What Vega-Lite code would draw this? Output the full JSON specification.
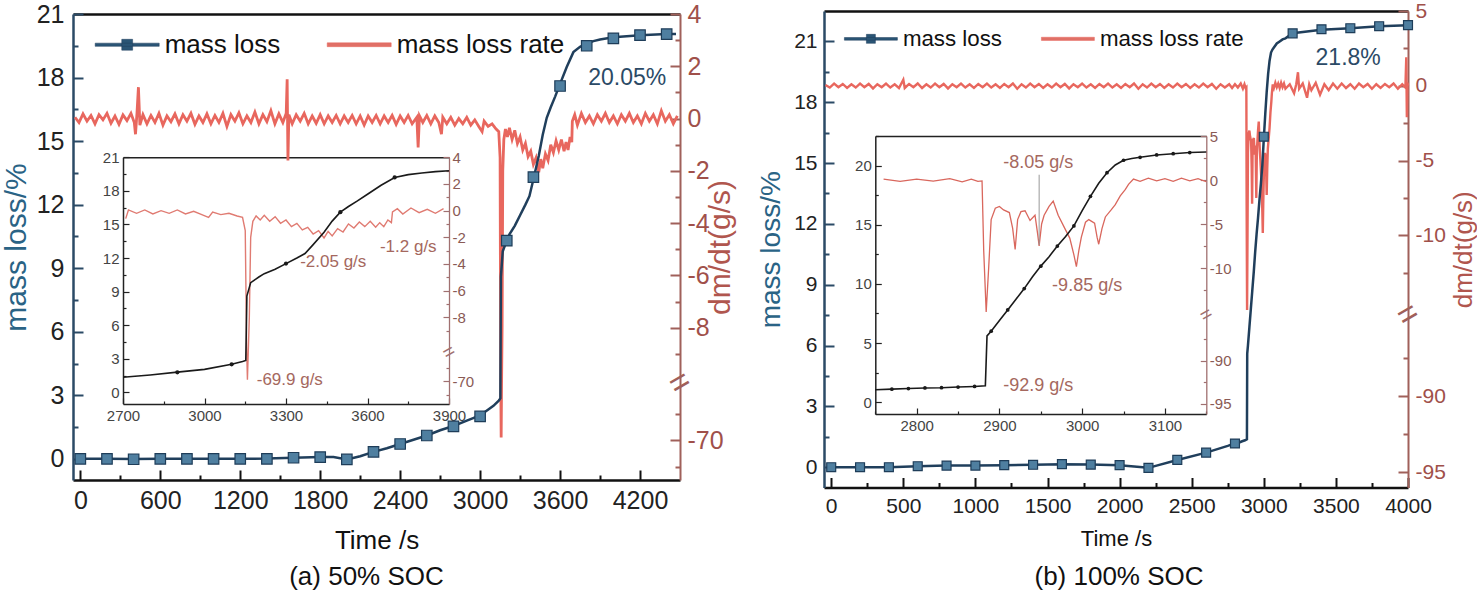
{
"$schema": "https://vega.github.io/schema/vega-lite/v6.json",
"padding": {"left": 1, "top": 0, "right": 0, "bottom": 0},
"spacing": 21,
"config": {
  "font": "Liberation Sans",
  "view": {"stroke": null},
  "axis": {"grid": false, "labelFont": "Liberation Sans", "titleFont": "Liberation Sans", "titleFontWeight": "normal", "labelOverlap": false, "labelFlush": false},
  "legend": {"labelFont": "Liberation Sans"},
  "title": {"font": "Liberation Sans", "fontWeight": "normal"}
},
"resolve": {"scale": {"color": "independent"}, "legend": {"color": "independent"}},
"datasets": {
  "rateA": [
    {"t":-40,"v":0.05},{"t":-10,"v":-0.15},{"t":20,"v":0.18},{"t":50,"v":-0.1},{"t":80,"v":0.12},{"t":110,"v":-0.2},{"t":140,"v":0.15},{"t":170,"v":-0.05},{"t":200,"v":0.2},{"t":230,"v":-0.18},{"t":260,"v":0.1},{"t":290,"v":-0.22},{"t":320,"v":0.14},{"t":350,"v":-0.08},{"t":380,"v":0.2},{"t":405,"v":-0.15},{"t":414,"v":-0.6},{"t":425,"v":0.2},{"t":436,"v":1.2},{"t":447,"v":-0.25},{"t":470,"v":0.15},{"t":500,"v":-0.2},{"t":530,"v":0.12},{"t":560,"v":-0.15},{"t":590,"v":0.2},{"t":620,"v":-0.25},{"t":650,"v":0.1},{"t":680,"v":-0.12},{"t":710,"v":0.18},{"t":740,"v":-0.2},{"t":770,"v":0.15},{"t":800,"v":-0.1},{"t":830,"v":0.2},{"t":860,"v":-0.22},{"t":890,"v":0.1},{"t":920,"v":-0.15},{"t":950,"v":0.18},{"t":980,"v":-0.2},{"t":1010,"v":0.12},{"t":1040,"v":-0.15},{"t":1070,"v":0.2},{"t":1100,"v":-0.3},{"t":1130,"v":0.15},{"t":1160,"v":-0.1},{"t":1190,"v":0.22},{"t":1220,"v":-0.2},{"t":1250,"v":0.1},{"t":1280,"v":-0.15},{"t":1310,"v":0.25},{"t":1340,"v":-0.2},{"t":1370,"v":0.15},{"t":1400,"v":-0.12},{"t":1430,"v":0.3},{"t":1460,"v":-0.2},{"t":1490,"v":0.18},{"t":1520,"v":-0.15},{"t":1545,"v":0.2},{"t":1552,"v":1.5},{"t":1558,"v":-1.6},{"t":1565,"v":0.15},{"t":1590,"v":-0.2},{"t":1620,"v":0.15},{"t":1650,"v":-0.1},{"t":1680,"v":0.2},{"t":1710,"v":-0.2},{"t":1740,"v":0.1},{"t":1770,"v":-0.18},{"t":1800,"v":0.15},{"t":1830,"v":-0.2},{"t":1860,"v":0.1},{"t":1890,"v":-0.15},{"t":1920,"v":0.12},{"t":1950,"v":-0.2},{"t":1980,"v":0.1},{"t":2010,"v":-0.15},{"t":2040,"v":0.12},{"t":2070,"v":-0.2},{"t":2100,"v":0.1},{"t":2130,"v":-0.25},{"t":2160,"v":0.1},{"t":2190,"v":-0.15},{"t":2220,"v":0.12},{"t":2250,"v":-0.2},{"t":2280,"v":0.1},{"t":2310,"v":-0.15},{"t":2340,"v":0.12},{"t":2370,"v":-0.22},{"t":2400,"v":0.1},{"t":2430,"v":-0.15},{"t":2460,"v":0.12},{"t":2490,"v":-0.2},{"t":2525,"v":0.05},{"t":2535,"v":-1.1},{"t":2545,"v":0.1},{"t":2570,"v":-0.15},{"t":2600,"v":0.12},{"t":2630,"v":-0.2},{"t":2660,"v":0.1},{"t":2690,"v":-0.15},{"t":2710,"v":-0.6},{"t":2720,"v":0.05},{"t":2750,"v":-0.2},{"t":2780,"v":0.05},{"t":2810,"v":-0.25},{"t":2840,"v":0.0},{"t":2870,"v":-0.2},{"t":2900,"v":0.05},{"t":2930,"v":-0.25},{"t":2960,"v":-0.05},{"t":2990,"v":-0.3},{"t":3015,"v":-0.5},{"t":3030,"v":-0.1},{"t":3060,"v":-0.3},{"t":3090,"v":-0.2},{"t":3120,"v":-0.4},{"t":3140,"v":-0.5},{"t":3150,"v":-1.5},{"t":3155,"v":-20},{"t":3158,"v":-69.9},{"t":3161,"v":-40},{"t":3165,"v":-8},{"t":3170,"v":-2},{"t":3178,"v":-0.8},{"t":3190,"v":-0.4},{"t":3205,"v":-0.7},{"t":3220,"v":-0.35},{"t":3240,"v":-0.8},{"t":3260,"v":-0.45},{"t":3280,"v":-0.95},{"t":3300,"v":-0.7},{"t":3320,"v":-1.2},{"t":3340,"v":-0.95},{"t":3360,"v":-1.45},{"t":3380,"v":-1.25},{"t":3400,"v":-1.75},{"t":3420,"v":-1.5},{"t":3440,"v":-2.05},{"t":3455,"v":-1.55},{"t":3470,"v":-1.9},{"t":3490,"v":-1.35},{"t":3510,"v":-1.6},{"t":3530,"v":-1.0},{"t":3550,"v":-1.3},{"t":3570,"v":-0.85},{"t":3590,"v":-1.2},{"t":3610,"v":-0.8},{"t":3630,"v":-1.25},{"t":3645,"v":-0.9},{"t":3660,"v":-1.2},{"t":3675,"v":-0.7},{"t":3688,"v":-0.9},{"t":3692,"v":-0.1},{"t":3710,"v":0.15},{"t":3730,"v":-0.25},{"t":3760,"v":0.2},{"t":3790,"v":-0.15},{"t":3820,"v":0.1},{"t":3850,"v":-0.2},{"t":3880,"v":0.15},{"t":3910,"v":-0.1},{"t":3940,"v":0.2},{"t":3970,"v":-0.15},{"t":4000,"v":0.1},{"t":4030,"v":-0.2},{"t":4060,"v":0.15},{"t":4090,"v":-0.1},{"t":4120,"v":0.2},{"t":4150,"v":-0.15},{"t":4180,"v":0.1},{"t":4210,"v":-0.2},{"t":4240,"v":0.2},{"t":4270,"v":-0.1},{"t":4300,"v":0.15},{"t":4330,"v":-0.2},{"t":4360,"v":0.3},{"t":4390,"v":-0.1},{"t":4420,"v":0.15},{"t":4450,"v":-0.2},{"t":4480,"v":0.1}
  ],
  "massA": [
    {"t":0,"m":0},{"t":200,"m":0},{"t":400,"m":-0.01},{"t":600,"m":0},{"t":800,"m":0},{"t":1000,"m":0},{"t":1200,"m":0},{"t":1400,"m":0.01},{"t":1600,"m":0.05},{"t":1800,"m":0.08},{"t":1900,"m":0.08},{"t":2000,"m":-0.03},{"t":2100,"m":0.12},{"t":2200,"m":0.33},{"t":2300,"m":0.5},{"t":2400,"m":0.7},{"t":2500,"m":0.9},{"t":2600,"m":1.1},{"t":2700,"m":1.35},{"t":2800,"m":1.55},{"t":2900,"m":1.8},{"t":3000,"m":2.05},{"t":3100,"m":2.5},{"t":3140,"m":2.75},{"t":3152,"m":2.85},{"t":3156,"m":8.6},{"t":3170,"m":9.8},{"t":3200,"m":10.3},{"t":3220,"m":10.6},{"t":3260,"m":11.0},{"t":3300,"m":11.5},{"t":3340,"m":12.0},{"t":3370,"m":12.4},{"t":3400,"m":13.2},{"t":3440,"m":14.3},{"t":3470,"m":15.3},{"t":3500,"m":16.1},{"t":3530,"m":16.6},{"t":3563,"m":17.1},{"t":3600,"m":17.7},{"t":3650,"m":18.5},{"t":3700,"m":19.2},{"t":3750,"m":19.45},{"t":3800,"m":19.6},{"t":3850,"m":19.72},{"t":3900,"m":19.8},{"t":4000,"m":19.9},{"t":4200,"m":20.0},{"t":4400,"m":20.05},{"t":4470,"m":20.05}
  ],
  "massAmk": [
    {"t":0,"m":0},{"t":200,"m":0},{"t":400,"m":-0.02},{"t":600,"m":0},{"t":800,"m":0},{"t":1000,"m":0},{"t":1200,"m":0},{"t":1400,"m":0},{"t":1600,"m":0.05},{"t":1800,"m":0.08},{"t":2000,"m":-0.03},{"t":2200,"m":0.33},{"t":2400,"m":0.7},{"t":2600,"m":1.1},{"t":2800,"m":1.53},{"t":3000,"m":2.0},{"t":3200,"m":10.3},{"t":3400,"m":13.3},{"t":3600,"m":17.6},{"t":3800,"m":19.5},{"t":4000,"m":19.85},{"t":4200,"m":20.0},{"t":4400,"m":20.05}
  ],
  "massAinMk": [
    {"t":2900,"m":1.79},{"t":3100,"m":2.5},{"t":3300,"m":11.5},{"t":3500,"m":16.1},{"t":3700,"m":19.2}
  ],
  "rateB": [
    {"t":-40,"v":0.05},{"t":-10,"v":-0.12},{"t":20,"v":0.15},{"t":50,"v":-0.1},{"t":80,"v":0.12},{"t":110,"v":-0.15},{"t":140,"v":0.1},{"t":170,"v":-0.12},{"t":200,"v":0.15},{"t":230,"v":-0.1},{"t":260,"v":0.12},{"t":290,"v":-0.18},{"t":320,"v":0.1},{"t":350,"v":-0.1},{"t":380,"v":0.15},{"t":410,"v":-0.12},{"t":440,"v":0.1},{"t":470,"v":-0.15},{"t":500,"v":0.4},{"t":510,"v":-0.15},{"t":540,"v":0.12},{"t":570,"v":-0.1},{"t":600,"v":0.15},{"t":630,"v":-0.15},{"t":660,"v":0.1},{"t":690,"v":-0.12},{"t":720,"v":0.15},{"t":750,"v":-0.1},{"t":780,"v":0.12},{"t":810,"v":-0.18},{"t":840,"v":0.1},{"t":870,"v":-0.1},{"t":900,"v":0.15},{"t":930,"v":-0.12},{"t":960,"v":0.1},{"t":990,"v":-0.15},{"t":1020,"v":0.12},{"t":1050,"v":-0.1},{"t":1080,"v":0.15},{"t":1110,"v":-0.12},{"t":1140,"v":0.1},{"t":1170,"v":-0.15},{"t":1200,"v":0.12},{"t":1230,"v":-0.1},{"t":1260,"v":0.15},{"t":1290,"v":-0.2},{"t":1320,"v":0.1},{"t":1350,"v":-0.12},{"t":1380,"v":0.15},{"t":1410,"v":-0.1},{"t":1440,"v":0.12},{"t":1470,"v":-0.15},{"t":1500,"v":0.1},{"t":1530,"v":-0.12},{"t":1560,"v":0.15},{"t":1590,"v":-0.1},{"t":1620,"v":0.12},{"t":1650,"v":-0.18},{"t":1680,"v":0.1},{"t":1710,"v":-0.1},{"t":1740,"v":0.15},{"t":1770,"v":-0.12},{"t":1800,"v":0.1},{"t":1830,"v":-0.15},{"t":1860,"v":0.12},{"t":1890,"v":-0.1},{"t":1920,"v":0.15},{"t":1950,"v":-0.12},{"t":1980,"v":0.1},{"t":2010,"v":-0.15},{"t":2040,"v":0.12},{"t":2070,"v":-0.1},{"t":2100,"v":0.15},{"t":2130,"v":-0.2},{"t":2160,"v":0.1},{"t":2190,"v":-0.12},{"t":2220,"v":0.15},{"t":2250,"v":-0.1},{"t":2280,"v":0.12},{"t":2310,"v":-0.15},{"t":2340,"v":0.1},{"t":2370,"v":-0.12},{"t":2400,"v":0.15},{"t":2430,"v":-0.1},{"t":2460,"v":0.12},{"t":2490,"v":-0.15},{"t":2520,"v":0.1},{"t":2550,"v":-0.12},{"t":2580,"v":0.15},{"t":2610,"v":-0.1},{"t":2640,"v":0.12},{"t":2670,"v":-0.2},{"t":2700,"v":0.1},{"t":2730,"v":-0.12},{"t":2760,"v":0.1},{"t":2780,"v":-0.15},{"t":2800,"v":0.1},{"t":2820,"v":-0.12},{"t":2840,"v":0.15},{"t":2855,"v":-0.2},{"t":2866,"v":0.1},{"t":2874,"v":-0.15},{"t":2879,"v":-0.1},{"t":2881,"v":-8},{"t":2884,"v":-15},{"t":2887,"v":-10},{"t":2890,"v":-4.5},{"t":2895,"v":-3.2},{"t":2900,"v":-3.0},{"t":2905,"v":-3.4},{"t":2912,"v":-3.7},{"t":2916,"v":-5.5},{"t":2919,"v":-7.9},{"t":2922,"v":-4.5},{"t":2926,"v":-3.6},{"t":2931,"v":-3.5},{"t":2937,"v":-4.6},{"t":2943,"v":-4.0},{"t":2946,"v":-6.0},{"t":2948,"v":-7.5},{"t":2951,"v":-5.0},{"t":2954,"v":-4.0},{"t":2960,"v":-3.0},{"t":2965,"v":-2.4},{"t":2971,"v":-4.0},{"t":2979,"v":-5.5},{"t":2985,"v":-6.6},{"t":2990,"v":-8.5},{"t":2993,"v":-9.85},{"t":2996,"v":-8.0},{"t":2999,"v":-6.5},{"t":3004,"v":-4.8},{"t":3008,"v":-4.5},{"t":3015,"v":-4.9},{"t":3018,"v":-6.5},{"t":3020,"v":-7.3},{"t":3024,"v":-5.5},{"t":3028,"v":-4.2},{"t":3035,"v":-3.4},{"t":3040,"v":-2.8},{"t":3046,"v":-1.8},{"t":3052,"v":-1.1},{"t":3056,"v":-0.5},{"t":3062,"v":0.1},{"t":3070,"v":-0.15},{"t":3080,"v":0.2},{"t":3090,"v":-0.1},{"t":3100,"v":0.15},{"t":3110,"v":-0.15},{"t":3120,"v":0.2},{"t":3130,"v":-0.1},{"t":3140,"v":0.15},{"t":3150,"v":-0.2},{"t":3180,"v":0.1},{"t":3210,"v":-0.5},{"t":3225,"v":0.1},{"t":3237,"v":0.9},{"t":3245,"v":-0.2},{"t":3270,"v":0.15},{"t":3300,"v":-0.8},{"t":3315,"v":0.1},{"t":3330,"v":-0.3},{"t":3360,"v":0.2},{"t":3390,"v":-0.6},{"t":3420,"v":0.1},{"t":3450,"v":-0.3},{"t":3480,"v":0.15},{"t":3510,"v":-0.2},{"t":3540,"v":0.15},{"t":3570,"v":-0.15},{"t":3600,"v":0.1},{"t":3630,"v":-0.2},{"t":3660,"v":0.15},{"t":3690,"v":-0.1},{"t":3720,"v":0.12},{"t":3750,"v":-0.2},{"t":3780,"v":0.1},{"t":3810,"v":-0.15},{"t":3840,"v":0.12},{"t":3870,"v":-0.1},{"t":3900,"v":0.15},{"t":3930,"v":-0.2},{"t":3960,"v":0.1},{"t":3982,"v":-0.12},{"t":3988,"v":1.9},{"t":3992,"v":-2.1},{"t":3996,"v":0.2},{"t":4000,"v":0.0}
  ],
  "massB": [
    {"t":0,"m":0},{"t":200,"m":0},{"t":400,"m":0},{"t":600,"m":0.05},{"t":800,"m":0.08},{"t":1000,"m":0.08},{"t":1200,"m":0.1},{"t":1400,"m":0.12},{"t":1600,"m":0.15},{"t":1800,"m":0.13},{"t":2000,"m":0.1},{"t":2200,"m":-0.03},{"t":2400,"m":0.36},{"t":2600,"m":0.72},{"t":2750,"m":1.05},{"t":2770,"m":1.1},{"t":2790,"m":1.15},{"t":2810,"m":1.2},{"t":2830,"m":1.22},{"t":2850,"m":1.28},{"t":2870,"m":1.33},{"t":2883,"m":1.38},{"t":2885,"m":5.6},{"t":2890,"m":6.0},{"t":2900,"m":6.9},{"t":2910,"m":7.8},{"t":2920,"m":8.7},{"t":2930,"m":9.6},{"t":2940,"m":10.6},{"t":2950,"m":11.5},{"t":2960,"m":12.3},{"t":2970,"m":13.2},{"t":2980,"m":14.0},{"t":2990,"m":14.9},{"t":3000,"m":16.2},{"t":3010,"m":17.4},{"t":3020,"m":18.5},{"t":3030,"m":19.4},{"t":3040,"m":20.05},{"t":3050,"m":20.45},{"t":3060,"m":20.6},{"t":3070,"m":20.7},{"t":3090,"m":20.9},{"t":3110,"m":21.0},{"t":3130,"m":21.1},{"t":3150,"m":21.15},{"t":3200,"m":21.4},{"t":3400,"m":21.58},{"t":3600,"m":21.65},{"t":3800,"m":21.75},{"t":4000,"m":21.8}
  ],
  "massBmk": [
    {"t":0,"m":0},{"t":200,"m":0},{"t":400,"m":0},{"t":600,"m":0.05},{"t":800,"m":0.08},{"t":1000,"m":0.08},{"t":1200,"m":0.1},{"t":1400,"m":0.12},{"t":1600,"m":0.15},{"t":1800,"m":0.13},{"t":2000,"m":0.1},{"t":2200,"m":-0.03},{"t":2400,"m":0.36},{"t":2600,"m":0.72},{"t":2800,"m":1.17},{"t":3000,"m":16.3},{"t":3200,"m":21.4},{"t":3400,"m":21.6},{"t":3600,"m":21.65},{"t":3800,"m":21.75},{"t":4000,"m":21.8}
  ],
  "massBinMk": [
    {"t":2770,"m":1.1},{"t":2790,"m":1.15},{"t":2810,"m":1.2},{"t":2830,"m":1.22},{"t":2850,"m":1.28},{"t":2870,"m":1.33},{"t":2890,"m":6.0},{"t":2910,"m":7.8},{"t":2930,"m":9.6},{"t":2950,"m":11.5},{"t":2970,"m":13.2},{"t":2990,"m":14.9},{"t":3010,"m":17.4},{"t":3030,"m":19.4},{"t":3050,"m":20.45},{"t":3070,"m":20.7},{"t":3090,"m":20.9},{"t":3110,"m":21.0},{"t":3130,"m":21.1}
  ]
},
"hconcat": [
{
  "width": 607,
  "height": 466,
  "title": {"text": "(a) 50% SOC", "orient": "bottom", "fontSize": 26, "color": "#111", "frame": "group", "dx": -10, "offset": 10},
  "resolve": {"scale": {"x": "independent", "y": "independent"}},
  "layer": [
    {
      "data": {"name": "rateA"},
      "mark": {"type": "line", "strokeWidth": 2.8},
      "encoding": {
        "x": {"field": "t", "type": "quantitative", "scale": {"domain": [-55, 4500], "nice": false, "zero": false},
              "axis": {"orient": "top", "labels": false, "ticks": false, "title": null, "domainColor": "#111", "domainWidth": 2.5}},
        "y": {"field": "v", "type": "quantitative", "scale": {"domain": [-71.5, -68, -10, 4], "range": [466, 373, 366, 0], "nice": false, "zero": false},
              "axis": {"orient": "right", "values": [4,3,2,1,0,-1,-2,-3,-4,-5,-6,-7,-8,-9,-69,-70,-71],
                       "labelExpr": "datum.value % 2 === 0 ? '' + datum.value : ''",
                       "tickSize": {"condition": {"test": "datum.value % 2 === 0", "value": -10}, "value": -5},
                       "tickColor": "#a0605a", "tickWidth": 2, "domainColor": "#a0605a", "domainWidth": 2,
                       "labelFontSize": 25, "labelColor": "#a0504a", "labelPadding": 17,
                       "title": "dm/dt(g/s)", "titleColor": "#b0564e", "titleFontSize": 30, "titleAngle": 270, "titleBaseline": "top", "titlePadding": -18}},
        "color": {"datum": "mass loss rate", "type": "nominal",
                  "scale": {"domain": ["mass loss", "mass loss rate"], "range": ["#203f5c", "#e8675e"]},
                  "legend": {"orient": "none", "legendX": 21.7, "legendY": -2, "direction": "horizontal", "title": null,
                             "labelFontSize": 26, "labelColor": "#111", "symbolSize": 4096, "labelOffset": 5, "columnPadding": 45, "padding": 0, "labelLimit": 0,
                             "encode": {"symbols": {"update": {
                               "shape": {"signal": "datum.value === 'mass loss' ? 'M-1,-0.05L1,-0.05L1,0.05L-1,0.05Z M-0.17,-0.17L0.17,-0.17L0.17,0.17L-0.17,0.17Z' : 'M-1,-0.06L1,-0.06L1,0.06L-1,0.06Z'"},
                               "fill": {"signal": "datum.value === 'mass loss' ? '#2a5575' : '#e07066'"},
                               "stroke": {"signal": "datum.value === 'mass loss' ? '#2a5575' : '#e07066'"},
                               "strokeWidth": {"value": 0.5}}}}}}
      }
    },
    {
      "data": {"name": "massA"},
      "mark": {"type": "line", "strokeWidth": 2.5},
      "encoding": {
        "x": {"field": "t", "type": "quantitative", "scale": {"domain": [-55, 4500], "nice": false, "zero": false},
              "axis": {"orient": "bottom", "values": [0,300,600,900,1200,1500,1800,2100,2400,2700,3000,3300,3600,3900,4200],
                       "labelExpr": "datum.value % 600 === 0 ? '' + datum.value : ''",
                       "tickSize": {"condition": {"test": "datum.value % 600 === 0", "value": -10}, "value": -5},
                       "tickColor": "#111", "tickWidth": 2, "domainColor": "#111", "domainWidth": 2.5,
                       "labelFontSize": 25, "labelColor": "#222", "labelPadding": 18,
                       "title": "Time /s", "titleFontSize": 26, "titleColor": "#111", "titlePadding": 9.5}},
        "y": {"field": "m", "type": "quantitative", "scale": {"domain": [-1, 21], "nice": false, "zero": false},
              "axis": {"orient": "left", "values": [0,1.5,3,4.5,6,7.5,9,10.5,12,13.5,15,16.5,18,19.5,21],
                       "labelExpr": "datum.value % 3 === 0 ? '' + datum.value : ''",
                       "tickSize": {"condition": {"test": "datum.value % 3 === 0", "value": -10}, "value": -5},
                       "tickColor": "#2b4a66", "tickWidth": 2, "domainColor": "#2b4a66", "domainWidth": 2.5,
                       "labelFontSize": 25, "labelColor": "#222", "labelPadding": 19,
                       "title": "mass loss/%", "titleColor": "#2a6385", "titleFontSize": 30, "titlePadding": 5}},
        "color": {"datum": "mass loss", "type": "nominal",
                  "scale": {"domain": ["mass loss", "mass loss rate"], "range": ["#203f5c", "#e8675e"]}}
      }
    },
    {
      "data": {"name": "massAmk"},
      "mark": {"type": "point", "shape": "square", "filled": true, "size": 110, "fill": "#4f7fa0", "stroke": "#1e3d59", "strokeWidth": 1.2, "opacity": 1},
      "encoding": {
        "x": {"field": "t", "type": "quantitative", "scale": {"domain": [-55, 4500], "nice": false, "zero": false}, "axis": null},
        "y": {"field": "m", "type": "quantitative", "scale": {"domain": [-1, 21], "nice": false, "zero": false}, "axis": null}
      }
    },
    {
      "data": {"name": "rateA"},
      "transform": [{"filter": "datum.t >= 2700 && datum.t <= 3900"}],
      "mark": {"type": "line", "strokeWidth": 1.4, "color": "#e07b72"},
      "encoding": {
        "x": {"field": "t", "type": "quantitative", "scale": {"domain": [2700, 3900], "range": [50, 376], "nice": false, "zero": false},
              "axis": {"orient": "top", "offset": -143.3, "labels": false, "ticks": false, "title": null, "domainColor": "#222", "domainWidth": 1.5}},
        "y": {"field": "v", "type": "quantitative", "scale": {"domain": [-71.7, -68.5, -10, 4], "range": [390, 347, 330, 143.3], "nice": false, "zero": false},
              "axis": {"orient": "right", "offset": -231, "values": [4,3,2,1,0,-1,-2,-3,-4,-5,-6,-7,-8,-9,-69,-70,-71],
                       "labelExpr": "datum.value % 2 === 0 ? '' + datum.value : ''",
                       "tickSize": {"condition": {"test": "datum.value % 2 === 0", "value": -6}, "value": -3},
                       "tickColor": "#a07070", "tickWidth": 1.2, "domainColor": "#a07070", "domainWidth": 1.3,
                       "labelFontSize": 15, "labelColor": "#8a5a55", "labelPadding": 9, "title": null}}
      }
    },
    {
      "data": {"name": "massA"},
      "transform": [{"filter": "datum.t >= 2700 && datum.t <= 3900"}],
      "mark": {"type": "line", "strokeWidth": 1.6, "color": "#1a1a1a"},
      "encoding": {
        "x": {"field": "t", "type": "quantitative", "scale": {"domain": [2700, 3900], "range": [50, 376], "nice": false, "zero": false},
              "axis": {"orient": "bottom", "offset": -76, "values": [2700,2850,3000,3150,3300,3450,3600,3750,3900],
                       "labelExpr": "datum.value % 300 === 0 ? '' + datum.value : ''",
                       "tickSize": {"condition": {"test": "datum.value % 300 === 0", "value": -6}, "value": -3},
                       "tickColor": "#222", "tickWidth": 1.2, "domainColor": "#222", "domainWidth": 1.5,
                       "labelFontSize": 15, "labelColor": "#444", "labelPadding": 10, "title": null}},
        "y": {"field": "m", "type": "quantitative", "scale": {"domain": [-1, 21], "range": [389.5, 143.3], "nice": false, "zero": false},
              "axis": {"orient": "left", "offset": -50, "values": [0,1.5,3,4.5,6,7.5,9,10.5,12,13.5,15,16.5,18,19.5,21],
                       "labelExpr": "datum.value % 3 === 0 ? '' + datum.value : ''",
                       "tickSize": {"condition": {"test": "datum.value % 3 === 0", "value": -6}, "value": -3},
                       "tickColor": "#222", "tickWidth": 1.2, "domainColor": "#222", "domainWidth": 1.5,
                       "labelFontSize": 15, "labelColor": "#444", "labelPadding": 10, "title": null}}
      }
    },
    {
      "data": {"name": "massAinMk"},
      "mark": {"type": "point", "shape": "circle", "filled": true, "size": 18, "color": "#1a1a1a", "opacity": 1},
      "encoding": {
        "x": {"field": "t", "type": "quantitative", "scale": {"domain": [2700, 3900], "range": [50, 376], "nice": false, "zero": false}, "axis": null},
        "y": {"field": "m", "type": "quantitative", "scale": {"domain": [-1, 21], "range": [389.5, 143.3], "nice": false, "zero": false}, "axis": null}
      }
    },
    {
      "data": {"values": [{"t": 4104, "m": 18.0, "label": "20.05%"}]},
      "mark": {"type": "text", "fontSize": 23, "color": "#2b4a66"},
      "encoding": {
        "x": {"field": "t", "type": "quantitative", "scale": {"domain": [-55, 4500], "nice": false, "zero": false}, "axis": null},
        "y": {"field": "m", "type": "quantitative", "scale": {"domain": [-1, 21], "nice": false, "zero": false}, "axis": null},
        "text": {"field": "label"}
      }
    },
    {
      "data": {"values": [{"t": 3474, "m": 11.6, "label": "-2.05 g/s"}, {"t": 3750, "m": 13.0, "label": "-1.2 g/s"}, {"t": 3314, "m": 1.13, "label": "-69.9 g/s"}]},
      "mark": {"type": "text", "fontSize": 17, "color": "#a5685e"},
      "encoding": {
        "x": {"field": "t", "type": "quantitative", "scale": {"domain": [2700, 3900], "range": [50, 376], "nice": false, "zero": false}, "axis": null},
        "y": {"field": "m", "type": "quantitative", "scale": {"domain": [-1, 21], "range": [389.5, 143.3], "nice": false, "zero": false}, "axis": null},
        "text": {"field": "label"}
      }
    },
    {
      "data": {"values": [{"t": 4500, "v": -39, "s": "="}]},
      "mark": {"type": "text", "fontSize": 34, "angle": 330, "color": "#a0605a"},
      "encoding": {
        "x": {"field": "t", "type": "quantitative", "scale": {"domain": [-55, 4500], "nice": false, "zero": false}, "axis": null},
        "y": {"field": "v", "type": "quantitative", "scale": {"domain": [-71.5, -68, -10, 4], "range": [466, 373, 366, 0], "nice": false, "zero": false}, "axis": null},
        "text": {"field": "s"}
      }
    },
    {
      "data": {"values": [{"t": 3900, "v": -39, "s": "="}]},
      "mark": {"type": "text", "fontSize": 20, "angle": 330, "color": "#a07070"},
      "encoding": {
        "x": {"field": "t", "type": "quantitative", "scale": {"domain": [2700, 3900], "range": [50, 376], "nice": false, "zero": false}, "axis": null},
        "y": {"field": "v", "type": "quantitative", "scale": {"domain": [-71.7, -68.5, -10, 4], "range": [390, 347, 330, 143.3], "nice": false, "zero": false}, "axis": null},
        "text": {"field": "s"}
      }
    }
  ]
},
{
  "width": 584,
  "height": 473.5,
  "title": {"text": "(b) 100% SOC", "orient": "bottom", "fontSize": 26, "color": "#111", "frame": "group", "dx": 3, "offset": 14},
  "resolve": {"scale": {"x": "independent", "y": "independent"}},
  "layer": [
    {
      "data": {"name": "rateB"},
      "mark": {"type": "line", "strokeWidth": 2.4},
      "encoding": {
        "x": {"field": "t", "type": "quantitative", "scale": {"domain": [-50, 4000], "nice": false, "zero": false},
              "axis": {"orient": "top", "offset": 3, "labels": false, "ticks": false, "title": null, "domainColor": "#111", "domainWidth": 2.5}},
        "y": {"field": "v", "type": "quantitative", "scale": {"domain": [-96, -85, -15, 5], "range": [473.5, 306.3, 296, -3], "nice": false, "zero": false},
              "axis": {"orient": "right", "values": [5,2.5,0,-2.5,-5,-7.5,-10,-12.5,-87.5,-90,-92.5,-95],
                       "labelExpr": "datum.value % 5 === 0 ? '' + datum.value : ''",
                       "tickSize": {"condition": {"test": "datum.value % 5 === 0", "value": -10}, "value": -5},
                       "tickColor": "#a0605a", "tickWidth": 2, "domainColor": "#a0605a", "domainWidth": 2,
                       "labelFontSize": 21, "labelColor": "#a0504a", "labelPadding": 17,
                       "title": "dm/dt(g/s)", "titleColor": "#b0564e", "titleFontSize": 26, "titleAngle": 270, "titleBaseline": "top", "titlePadding": 5}},
        "color": {"datum": "mass loss rate", "type": "nominal",
                  "scale": {"domain": ["mass loss", "mass loss rate"], "range": ["#203f5c", "#e8675e"]},
                  "legend": {"orient": "none", "legendX": 19.9, "legendY": -2.5, "direction": "horizontal", "title": null,
                             "labelFontSize": 22.3, "labelColor": "#111", "symbolSize": 2809, "labelOffset": 5, "columnPadding": 37, "padding": 0, "labelLimit": 0,
                             "encode": {"symbols": {"update": {
                               "shape": {"signal": "datum.value === 'mass loss' ? 'M-1,-0.05L1,-0.05L1,0.05L-1,0.05Z M-0.17,-0.17L0.17,-0.17L0.17,0.17L-0.17,0.17Z' : 'M-1,-0.06L1,-0.06L1,0.06L-1,0.06Z'"},
                               "fill": {"signal": "datum.value === 'mass loss' ? '#2a5575' : '#e07066'"},
                               "stroke": {"signal": "datum.value === 'mass loss' ? '#2a5575' : '#e07066'"},
                               "strokeWidth": {"value": 0.5}}}}}}
      }
    },
    {
      "data": {"name": "massB"},
      "mark": {"type": "line", "strokeWidth": 2.5},
      "encoding": {
        "x": {"field": "t", "type": "quantitative", "scale": {"domain": [-50, 4000], "nice": false, "zero": false},
              "axis": {"orient": "bottom", "values": [0,250,500,750,1000,1250,1500,1750,2000,2250,2500,2750,3000,3250,3500,3750,4000],
                       "labelExpr": "datum.value % 500 === 0 ? '' + datum.value : ''",
                       "tickSize": {"condition": {"test": "datum.value % 500 === 0", "value": -10}, "value": -5},
                       "tickColor": "#111", "tickWidth": 2, "domainColor": "#111", "domainWidth": 2.5,
                       "labelFontSize": 21, "labelColor": "#222", "labelPadding": 18,
                       "title": "Time /s", "titleFontSize": 22, "titleColor": "#111", "titlePadding": 7}},
        "y": {"field": "m", "type": "quantitative", "scale": {"domain": [-1, 22.5], "range": [473.5, -3], "nice": false, "zero": false},
              "axis": {"orient": "left", "values": [0,1.5,3,4.5,6,7.5,9,10.5,12,13.5,15,16.5,18,19.5,21],
                       "labelExpr": "datum.value % 3 === 0 ? '' + datum.value : ''",
                       "tickSize": {"condition": {"test": "datum.value % 3 === 0", "value": -10}, "value": -5},
                       "tickColor": "#2b4a66", "tickWidth": 2, "domainColor": "#2b4a66", "domainWidth": 2.5,
                       "labelFontSize": 21, "labelColor": "#222", "labelPadding": 17,
                       "title": "mass loss/%", "titleColor": "#2a6385", "titleFontSize": 28, "titlePadding": 8.4}},
        "color": {"datum": "mass loss", "type": "nominal",
                  "scale": {"domain": ["mass loss", "mass loss rate"], "range": ["#203f5c", "#e8675e"]}}
      }
    },
    {
      "data": {"name": "massBmk"},
      "mark": {"type": "point", "shape": "square", "filled": true, "size": 80, "fill": "#4f7fa0", "stroke": "#1e3d59", "strokeWidth": 1.2, "opacity": 1},
      "encoding": {
        "x": {"field": "t", "type": "quantitative", "scale": {"domain": [-50, 4000], "nice": false, "zero": false}, "axis": null},
        "y": {"field": "m", "type": "quantitative", "scale": {"domain": [-1, 22.5], "range": [473.5, -3], "nice": false, "zero": false}, "axis": null}
      }
    },
    {
      "data": {"name": "rateB"},
      "transform": [{"filter": "datum.t >= 2750 && datum.t <= 3150"}],
      "mark": {"type": "line", "strokeWidth": 1.3, "color": "#d9675d"},
      "encoding": {
        "x": {"field": "t", "type": "quantitative", "scale": {"domain": [2750, 3150], "range": [51.3, 382.3], "nice": false, "zero": false},
              "axis": {"orient": "top", "offset": -122, "labels": false, "ticks": false, "title": null, "domainColor": "#222", "domainWidth": 1.5}},
        "y": {"field": "v", "type": "quantitative", "scale": {"domain": [-96.2, -85, -15, 5], "range": [400, 304, 298, 122], "nice": false, "zero": false},
              "axis": {"orient": "right", "offset": -201.7, "values": [5,2.5,0,-2.5,-5,-7.5,-10,-12.5,-87.5,-90,-92.5,-95],
                       "labelExpr": "datum.value % 5 === 0 ? '' + datum.value : ''",
                       "tickSize": {"condition": {"test": "datum.value % 5 === 0", "value": -6}, "value": -3},
                       "tickColor": "#a07070", "tickWidth": 1.2, "domainColor": "#a07070", "domainWidth": 1.3,
                       "labelFontSize": 15, "labelColor": "#8a5a55", "labelPadding": 9, "title": null}}
      }
    },
    {
      "data": {"name": "massB"},
      "transform": [{"filter": "datum.t >= 2750 && datum.t <= 3150"}],
      "mark": {"type": "line", "strokeWidth": 1.6, "color": "#1a1a1a"},
      "encoding": {
        "x": {"field": "t", "type": "quantitative", "scale": {"domain": [2750, 3150], "range": [51.3, 382.3], "nice": false, "zero": false},
              "axis": {"orient": "bottom", "offset": -73.5, "values": [2750,2800,2850,2900,2950,3000,3050,3100,3150],
                       "labelExpr": "datum.value % 100 === 0 ? '' + datum.value : ''",
                       "tickSize": {"condition": {"test": "datum.value % 100 === 0", "value": -6}, "value": -3},
                       "tickColor": "#222", "tickWidth": 1.2, "domainColor": "#222", "domainWidth": 1.5,
                       "labelFontSize": 15, "labelColor": "#444", "labelPadding": 10, "title": null}},
        "y": {"field": "m", "type": "quantitative", "scale": {"domain": [-1, 22.5], "range": [400, 122], "nice": false, "zero": false},
              "axis": {"orient": "left", "offset": -51.3, "values": [0,2.5,5,7.5,10,12.5,15,17.5,20,22.5],
                       "labelExpr": "datum.value % 5 === 0 ? '' + datum.value : ''",
                       "tickSize": {"condition": {"test": "datum.value % 5 === 0", "value": -6}, "value": -3},
                       "tickColor": "#222", "tickWidth": 1.2, "domainColor": "#222", "domainWidth": 1.5,
                       "labelFontSize": 15, "labelColor": "#444", "labelPadding": 10, "title": null}}
      }
    },
    {
      "data": {"name": "massBinMk"},
      "mark": {"type": "point", "shape": "circle", "filled": true, "size": 14, "color": "#1a1a1a", "opacity": 1},
      "encoding": {
        "x": {"field": "t", "type": "quantitative", "scale": {"domain": [2750, 3150], "range": [51.3, 382.3], "nice": false, "zero": false}, "axis": null},
        "y": {"field": "m", "type": "quantitative", "scale": {"domain": [-1, 22.5], "range": [400, 122], "nice": false, "zero": false}, "axis": null}
      }
    },
    {
      "data": {"values": [{"t": 2948, "v1": -7.4, "v2": 0.6}]},
      "mark": {"type": "rule", "color": "#999999", "strokeWidth": 1},
      "encoding": {
        "x": {"field": "t", "type": "quantitative", "scale": {"domain": [2750, 3150], "range": [51.3, 382.3], "nice": false, "zero": false}, "axis": null},
        "y": {"field": "v1", "type": "quantitative", "scale": {"domain": [-96.2, -85, -15, 5], "range": [400, 304, 298, 122], "nice": false, "zero": false}, "axis": null},
        "y2": {"field": "v2"}
      }
    },
    {
      "data": {"values": [{"t": 3585, "m": 20.16, "label": "21.8%"}]},
      "mark": {"type": "text", "fontSize": 23, "color": "#2b4a66"},
      "encoding": {
        "x": {"field": "t", "type": "quantitative", "scale": {"domain": [-50, 4000], "nice": false, "zero": false}, "axis": null},
        "y": {"field": "m", "type": "quantitative", "scale": {"domain": [-1, 22.5], "range": [473.5, -3], "nice": false, "zero": false}, "axis": null},
        "text": {"field": "label"}
      }
    },
    {
      "data": {"values": [{"t": 2947, "m": 20.2, "label": "-8.05 g/s"}, {"t": 3006, "m": 9.86, "label": "-9.85 g/s"}, {"t": 2947, "m": 1.33, "label": "-92.9 g/s"}]},
      "mark": {"type": "text", "fontSize": 18, "color": "#a5685e"},
      "encoding": {
        "x": {"field": "t", "type": "quantitative", "scale": {"domain": [2750, 3150], "range": [51.3, 382.3], "nice": false, "zero": false}, "axis": null},
        "y": {"field": "m", "type": "quantitative", "scale": {"domain": [-1, 22.5], "range": [400, 122], "nice": false, "zero": false}, "axis": null},
        "text": {"field": "label"}
      }
    },
    {
      "data": {"values": [{"t": 4000, "v": -50, "s": "="}]},
      "mark": {"type": "text", "fontSize": 34, "angle": 330, "color": "#a0605a"},
      "encoding": {
        "x": {"field": "t", "type": "quantitative", "scale": {"domain": [-50, 4000], "nice": false, "zero": false}, "axis": null},
        "y": {"field": "v", "type": "quantitative", "scale": {"domain": [-96, -85, -15, 5], "range": [473.5, 306.3, 296, -3], "nice": false, "zero": false}, "axis": null},
        "text": {"field": "s"}
      }
    },
    {
      "data": {"values": [{"t": 3150, "v": -50, "s": "="}]},
      "mark": {"type": "text", "fontSize": 20, "angle": 330, "color": "#a07070"},
      "encoding": {
        "x": {"field": "t", "type": "quantitative", "scale": {"domain": [2750, 3150], "range": [51.3, 382.3], "nice": false, "zero": false}, "axis": null},
        "y": {"field": "v", "type": "quantitative", "scale": {"domain": [-96.2, -85, -15, 5], "range": [400, 304, 298, 122], "nice": false, "zero": false}, "axis": null},
        "text": {"field": "s"}
      }
    }
  ]
}
]
}
